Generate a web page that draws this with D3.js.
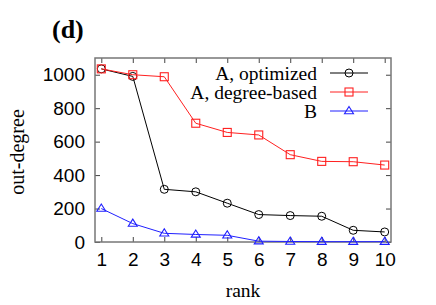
<!DOCTYPE html>
<html>
<head>
<meta charset="utf-8">
<script src="https://cdn.jsdelivr.net/npm/d3@7"></script>
<style>
  body { margin: 0; background: #fff; }
  svg { display: block; }
</style>
</head>
<body>
<div id="chart"></div>
<script>
// ── data ──────────────────────────────
const ranks = [1, 2, 3, 4, 5, 6, 7, 8, 9, 10];
const optimized   = [1035, 990, 315, 300, 232, 164, 158, 154, 70, 60];
const degreeBased = [1035, 1000, 988, 710, 655, 640, 522, 482, 480, 460];
const seriesB     = [200, 110, 52, 45, 40, 5, 3, 2, 2, 2];
const yTicks = [0, 200, 400, 600, 800, 1000];
const seriesNames = ["A, optimized", "A, degree-based", "B"];

const W = 436, H = 305;
const mLeft = 95, mRight = 391, mTop = 58, mBottom = 242;
const serif = "'Liberation Serif', 'Times New Roman', serif";

const svg = d3.select("#chart").append("svg")
  .attr("width", W).attr("height", H);

const x = d3.scaleLinear().domain([0.8, 10.2]).range([mLeft, mRight]);
const y = d3.scaleLinear().domain([0, 1100]).range([mBottom, mTop]);

const frameColor = "#777";

// ── axes ──────────────────────────────
const xAxis = svg.append("g")
  .attr("transform", `translate(0,${mBottom})`)
  .call(d3.axisBottom(x).tickValues(ranks).tickSize(-5).tickPadding(11).tickFormat(d3.format("d")));
const xTop = svg.append("g")
  .attr("transform", `translate(0,${mTop})`)
  .call(d3.axisTop(x).tickValues(ranks).tickSize(-5).tickFormat(""));
const yAxis = svg.append("g")
  .attr("transform", `translate(${mLeft},0)`)
  .call(d3.axisLeft(y).tickValues(yTicks).tickSize(-5).tickPadding(10).tickFormat(d3.format("d")));
const yRight = svg.append("g")
  .attr("transform", `translate(${mRight},0)`)
  .call(d3.axisRight(y).tickValues(yTicks).tickSize(-5).tickFormat(""));

[xAxis, xTop, yAxis, yRight].forEach(g => {
  g.select(".domain").remove();
  g.selectAll(".tick line").attr("stroke", "#444").attr("stroke-width", 1);
  g.selectAll(".tick text")
    .attr("fill", "#000")
    .attr("font-family", "'Liberation Sans', Arial, sans-serif")
    .attr("font-size", "19px");
});

svg.append("rect")
  .attr("x", mLeft).attr("y", mTop)
  .attr("width", mRight - mLeft).attr("height", mBottom - mTop)
  .attr("fill", "none").attr("stroke", frameColor).attr("stroke-width", 1.5);

// ── labels ────────────────────────────
svg.append("text")
  .attr("x", 52).attr("y", 38)
  .attr("font-family", serif)
  .attr("font-weight", "bold").attr("font-size", "26px")
  .text("(d)");

svg.append("text")
  .attr("x", 243).attr("y", 297)
  .attr("text-anchor", "middle")
  .attr("font-family", serif)
  .attr("font-size", "19.5px")
  .text("rank");

svg.append("text")
  .attr("transform", "translate(24,152) rotate(-90)")
  .attr("text-anchor", "middle")
  .attr("font-family", serif)
  .attr("font-size", "20px")
  .text("out-degree");

// ── series ────────────────────────────
const series = [
  { name: seriesNames[0], values: optimized,   color: "#000", marker: "circle" },
  { name: seriesNames[1], values: degreeBased, color: "#ff2020", marker: "square" },
  { name: seriesNames[2], values: seriesB,     color: "#2020ff", marker: "triangle" },
];

const line = d3.line().x(d => x(d[0])).y(d => y(d[1]));

function drawMarker(g, type, cx, cy, color) {
  if (type === "circle") {
    g.append("circle").attr("cx", cx).attr("cy", cy).attr("r", 4)
      .attr("fill", "none").attr("stroke", color).attr("stroke-width", 1);
  } else if (type === "square") {
    g.append("rect").attr("x", cx - 4).attr("y", cy - 4).attr("width", 8).attr("height", 8)
      .attr("fill", "none").attr("stroke", color).attr("stroke-width", 1.1);
  } else {
    const s = 4.5;
    g.append("path")
      .attr("d", `M${cx},${cy - s}L${cx + s},${cy + s * 0.6}L${cx - s},${cy + s * 0.6}Z`)
      .attr("fill", "none").attr("stroke", color).attr("stroke-width", 1.1);
  }
}

series.forEach(s => {
  const pts = ranks.map((r, i) => [r, s.values[i]]);
  svg.append("path")
    .attr("d", line(pts))
    .attr("fill", "none").attr("stroke", s.color).attr("stroke-width", 1);
  const g = svg.append("g");
  pts.forEach(p => drawMarker(g, s.marker, x(p[0]), y(p[1]), s.color));
});

// ── legend ────────────────────────────
series.forEach((s, i) => {
  const ly = 73 + i * 19;
  svg.append("text")
    .attr("x", 317).attr("y", ly).attr("dy", "0.35em")
    .attr("text-anchor", "end")
    .attr("font-family", serif)
    .attr("font-size", "19.5px")
    .text(s.name);
  svg.append("line")
    .attr("x1", 330).attr("x2", 368).attr("y1", ly).attr("y2", ly)
    .attr("stroke", s.color).attr("stroke-width", 1);
  drawMarker(svg, s.marker, 349, ly, s.color);
});
</script>
</body>
</html>
